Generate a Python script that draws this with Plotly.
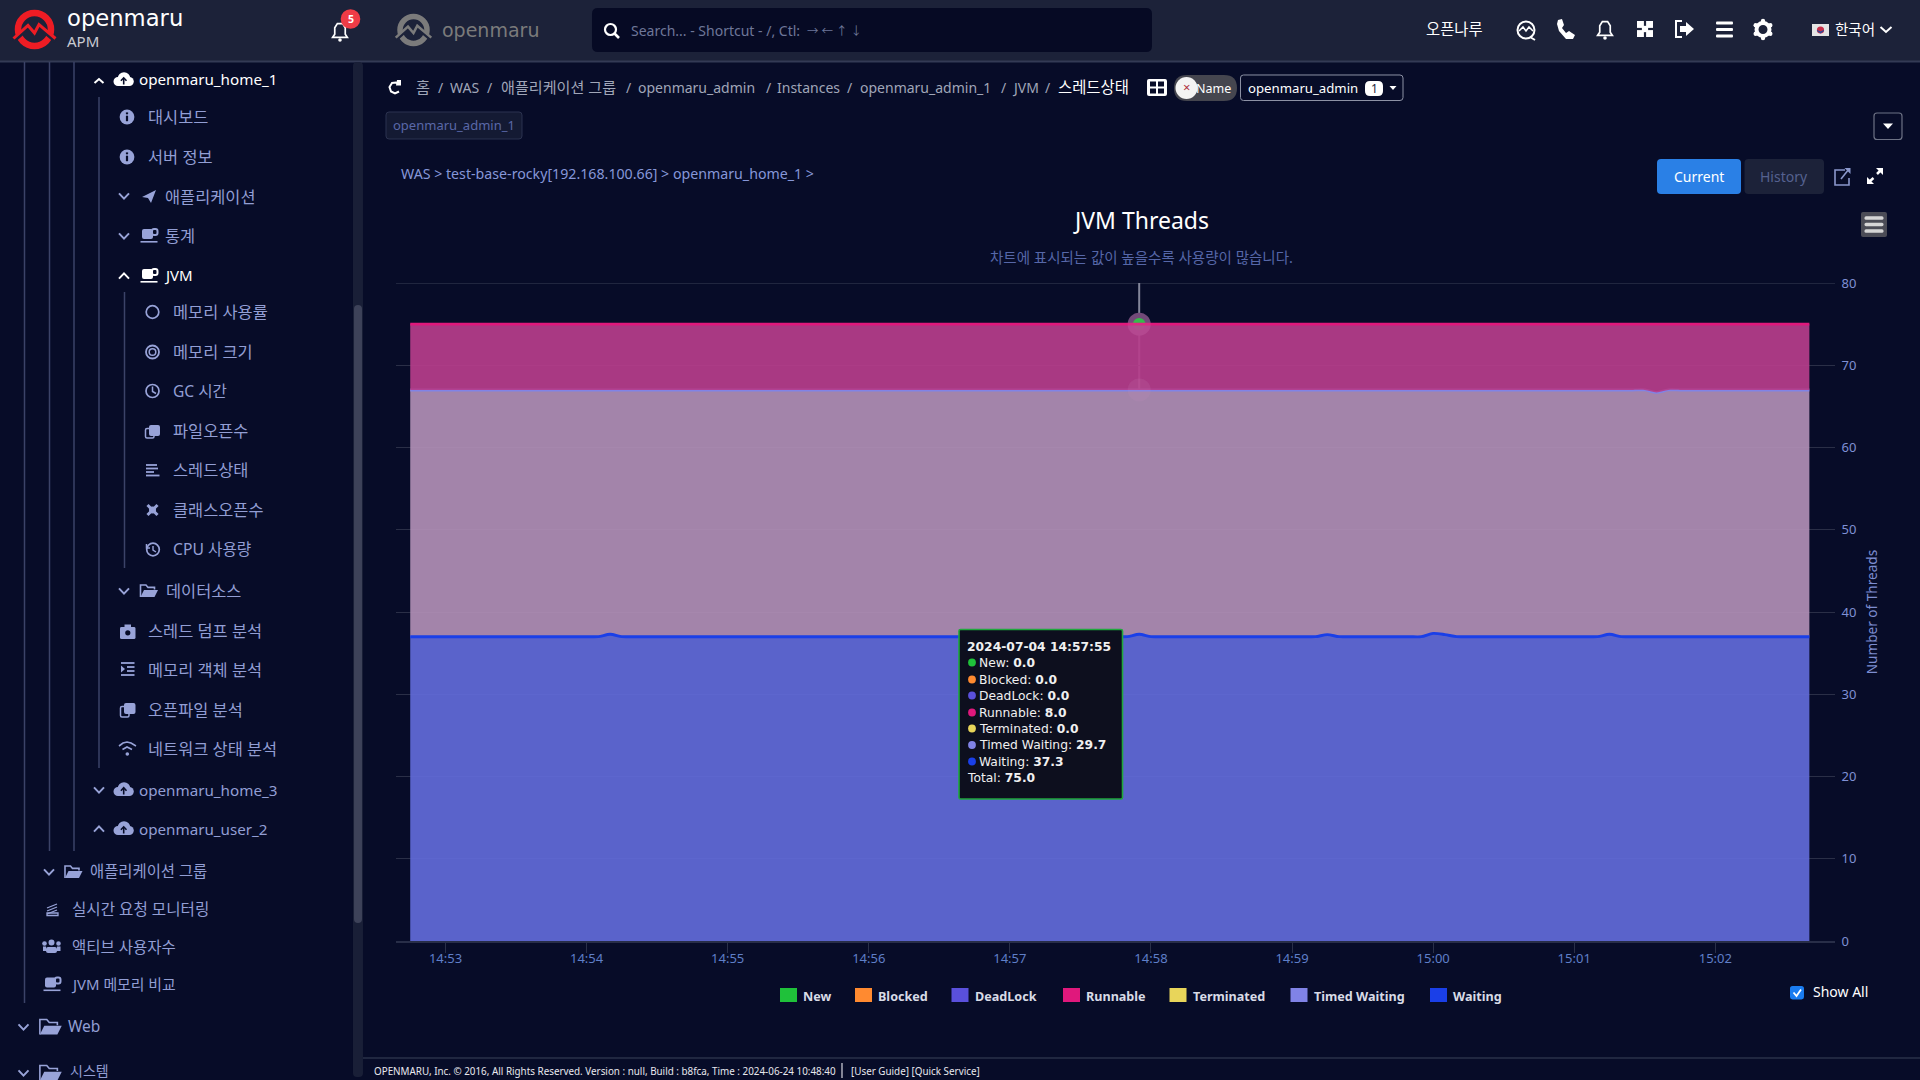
import pandas as pd
import plotly.graph_objects as go

# ---------- data ----------
times = pd.date_range("2024-07-04 14:52:45", periods=120, freq="5s")
tick_vals = ["2024-07-04 14:53:00", "2024-07-04 14:54:00", "2024-07-04 14:55:00", "2024-07-04 14:56:00",
             "2024-07-04 14:57:00", "2024-07-04 14:58:00", "2024-07-04 14:59:00", "2024-07-04 15:00:00",
             "2024-07-04 15:01:00", "2024-07-04 15:02:00"]
tick_text = ["14:53", "14:54", "14:55", "14:56", "14:57", "14:58", "14:59", "15:00", "15:01", "15:02"]
waiting = [
    37, 37, 37, 37, 37, 37, 37, 37, 37, 37, 37, 37,
    37, 37, 37, 37, 37, 37.3, 37, 37, 37, 37, 37, 37,
    37, 37, 37, 37, 37, 37, 37, 37, 37, 37, 37, 37,
    37, 37, 37, 37, 37, 37, 37, 37, 37, 37, 37, 37,
    37, 37, 37, 37, 37, 37, 37, 37, 37, 37, 37, 37,
    37, 37, 37.3, 37, 37, 37, 37, 37, 37, 37, 37, 37,
    37, 37, 37, 37, 37, 37, 37.25, 37, 37, 37, 37, 37,
    37, 37, 37, 37.4, 37.25, 37, 37, 37, 37, 37, 37, 37,
    37, 37, 37, 37, 37, 37, 37.3, 37, 37, 37, 37, 37,
    37, 37, 37, 37, 37, 37, 37, 37, 37, 37, 37, 37,
]
timed_waiting = [
    30, 30, 30, 30, 30, 30, 30, 30, 30, 30, 30, 30,
    30, 30, 30, 30, 30, 29.7, 30, 30, 30, 30, 30, 30,
    30, 30, 30, 30, 30, 30, 30, 30, 30, 30, 30, 30,
    30, 30, 30, 30, 30, 30, 30, 30, 30, 30, 30, 30,
    30, 30, 30, 30, 30, 30, 30, 30, 30, 30, 30, 30,
    30, 30, 29.7, 30, 30, 30, 30, 30, 30, 30, 30, 30,
    30, 30, 30, 30, 30, 30, 29.75, 30, 30, 30, 30, 30,
    30, 30, 30, 29.6, 29.75, 30, 30, 30, 30, 30, 30, 30,
    30, 30, 30, 30, 30, 30, 29.7, 30, 30, 30, 29.7, 30,
    30, 30, 30, 30, 30, 30, 30, 30, 30, 30, 30, 30,
]
runnable = [
    8, 8, 8, 8, 8, 8, 8, 8, 8, 8, 8, 8,
    8, 8, 8, 8, 8, 8, 8, 8, 8, 8, 8, 8,
    8, 8, 8, 8, 8, 8, 8, 8, 8, 8, 8, 8,
    8, 8, 8, 8, 8, 8, 8, 8, 8, 8, 8, 8,
    8, 8, 8, 8, 8, 8, 8, 8, 8, 8, 8, 8,
    8, 8, 8, 8, 8, 8, 8, 8, 8, 8, 8, 8,
    8, 8, 8, 8, 8, 8, 8, 8, 8, 8, 8, 8,
    8, 8, 8, 8, 8, 8, 8, 8, 8, 8, 8, 8,
    8, 8, 8, 8, 8, 8, 8, 8, 8, 8, 8.3, 8,
    8, 8, 8, 8, 8, 8, 8, 8, 8, 8, 8, 8,
]
zeros = [
    0, 0, 0, 0, 0, 0, 0, 0, 0, 0, 0, 0, 0, 0, 0, 0, 0, 0, 0, 0, 0, 0, 0, 0,
    0, 0, 0, 0, 0, 0, 0, 0, 0, 0, 0, 0, 0, 0, 0, 0, 0, 0, 0, 0, 0, 0, 0, 0,
    0, 0, 0, 0, 0, 0, 0, 0, 0, 0, 0, 0, 0, 0, 0, 0, 0, 0, 0, 0, 0, 0, 0, 0,
    0, 0, 0, 0, 0, 0, 0, 0, 0, 0, 0, 0, 0, 0, 0, 0, 0, 0, 0, 0, 0, 0, 0, 0,
    0, 0, 0, 0, 0, 0, 0, 0, 0, 0, 0, 0, 0, 0, 0, 0, 0, 0, 0, 0, 0, 0, 0, 0,
]
series_names = ["New", "Blocked", "DeadLock", "Runnable", "Terminated", "Timed Waiting", "Waiting"]
series_colors = ["#1fc13a", "#ff8a30", "#5a50dc", "#e0187c", "#e8d55a", "#8083e6", "#1a3fe8"]
tooltip_time = "2024-07-04 14:57:55"
tooltip_values = ["0.0", "0.0", "0.0", "8.0", "0.0", "29.7", "37.3"]
tooltip_total = "75.0"
crosshair_time = "2024-07-04 14:57:55"

# ---------- helpers (1920x1080 page pixels -> paper) ----------
W, H = 1920, 1080
FONT = "Noto Sans, Noto Sans CJK KR, sans-serif"
BG = "#070c28"
HEAD = "#1c2239"
IC = "#98a3d8"
SB = "#929ed4"
shapes, annos = [], []
X = lambda x: x / W
Y = lambda y: 1 - y / H


def path(pts, fill=None, line=None, lw=1.5, close=False, layer="above"):
    d = "M " + " L ".join(f"{X(a):.5f} {Y(b):.5f}" for a, b in pts) + (" Z" if close else "")
    shapes.append(dict(type="path", xref="paper", yref="paper", path=d, layer=layer,
                       fillcolor=fill if fill else "rgba(0,0,0,0)",
                       line=dict(color=line if line else "rgba(0,0,0,0)", width=lw if line else 0)))


def rrect(x0, y0, x1, y1, fill=None, line=None, lw=1, r=0):
    if r:
        d = (f"M {X(x0+r):.5f} {Y(y0):.5f} L {X(x1-r):.5f} {Y(y0):.5f} Q {X(x1):.5f} {Y(y0):.5f} {X(x1):.5f} {Y(y0+r):.5f} "
             f"L {X(x1):.5f} {Y(y1-r):.5f} Q {X(x1):.5f} {Y(y1):.5f} {X(x1-r):.5f} {Y(y1):.5f} "
             f"L {X(x0+r):.5f} {Y(y1):.5f} Q {X(x0):.5f} {Y(y1):.5f} {X(x0):.5f} {Y(y1-r):.5f} "
             f"L {X(x0):.5f} {Y(y0+r):.5f} Q {X(x0):.5f} {Y(y0):.5f} {X(x0+r):.5f} {Y(y0):.5f} Z")
        shapes.append(dict(type="path", xref="paper", yref="paper", path=d, layer="above",
                           fillcolor=fill if fill else "rgba(0,0,0,0)",
                           line=dict(color=line if line else "rgba(0,0,0,0)", width=lw if line else 0)))
    else:
        shapes.append(dict(type="rect", xref="paper", yref="paper", x0=X(x0), x1=X(x1), y0=Y(y0), y1=Y(y1),
                           layer="above", fillcolor=fill if fill else "rgba(0,0,0,0)",
                           line=dict(color=line if line else "rgba(0,0,0,0)", width=lw if line else 0)))


def circ(cx, cy, r, fill=None, line=None, lw=1):
    shapes.append(dict(type="circle", xref="paper", yref="paper", x0=X(cx - r), x1=X(cx + r), y0=Y(cy - r), y1=Y(cy + r),
                       layer="above", fillcolor=fill if fill else "rgba(0,0,0,0)",
                       line=dict(color=line if line else "rgba(0,0,0,0)", width=lw if line else 0)))


def seg(x0, y0, x1, y1, color, lw=1.5):
    path([(x0, y0), (x1, y1)], line=color, lw=lw)


def text(x, y, s, size=14, color=SB, anchor="left", family=FONT, angle=0):
    annos.append(dict(xref="paper", yref="paper", x=X(x), y=Y(y), text=s, showarrow=False, xanchor=anchor,
                      yanchor="middle", textangle=angle, borderpad=0, font=dict(family=family, size=size, color=color)))


def sb(x, y, s, size=16.4, color=SB):
    text(x - 1.2, y, s, size, color)


def chev(cx, cy, up=False, color=IC, w=5, h=5.2, lw=2):
    d = -h if up else h
    path([(cx - w, cy - d / 2), (cx, cy + d / 2), (cx + w, cy - d / 2)], line=color, lw=lw)


def info(cx, cy):
    circ(cx, cy, 7.4, IC)
    rrect(cx - 1.1, cy - 1.3, cx + 1.1, cy + 4.2, BG)
    rrect(cx - 1.1, cy - 4.6, cx + 1.1, cy - 2.7, BG)


def cloud(cx, cy, color):
    circ(cx - 5.5, cy + 1.5, 4.5, color)
    circ(cx + 0.5, cy - 1.5, 6.3, color)
    circ(cx + 5.8, cy + 1.5, 4.5, color)
    rrect(cx - 5.5, cy + 1, cx + 5.8, cy + 6, color)
    seg(cx + 0.2, cy + 4.5, cx + 0.2, cy - 1.5, BG, 1.6)
    path([(cx - 2.6, cy + 0.8), (cx + 0.2, cy - 2.2), (cx + 3, cy + 0.8)], line=BG, lw=1.6)


def folder(cx, cy, color=IC, s=1.0):
    path([(cx - 8.5 * s, cy + 6 * s), (cx - 8.5 * s, cy - 6 * s), (cx - 3 * s, cy - 6 * s), (cx - 1 * s, cy - 3.6 * s),
          (cx + 5.5 * s, cy - 3.6 * s), (cx + 5.5 * s, cy - 1.5 * s)], line=color, lw=1.6)
    path([(cx - 8.5 * s, cy + 6 * s), (cx - 5 * s, cy - 1 * s), (cx + 9 * s, cy - 1 * s), (cx + 5.5 * s, cy + 6 * s)],
         fill=color, close=True)


def cup(cx, cy, color):
    rrect(cx - 7, cy - 7, cx + 4, cy + 3, color, r=2)
    rrect(cx + 3, cy - 7, cx + 8.5, cy - 1, None, color, 2, r=2)
    rrect(cx - 8.5, cy + 5, cx + 8.5, cy + 6.6, color)


# ---------- page chrome ----------
rrect(0, 0, W, 61, HEAD)
seg(0, 61.5, W, 61.5, "#333a55", 2)
seg(361, 62, 361, 1058, "#2a3049", 1.5)
seg(361, 1058, W, 1058, "#2a3049", 1.5)
rrect(353, 62, 363, 1077, "#191f37", r=4)
rrect(354, 305, 362, 923, "#3d4259", r=4)


def logo(cx, cy, r, color, mid):
    circ(cx, cy, r - 3, None, color, 6.5 * r / 19.5)
    pts = [(cx - 21 * r / 19.5, cy + 9 * r / 19.5), (cx - 6.5 * r / 19.5, cy - 4 * r / 19.5), (cx, cy + 3.5 * r / 19.5),
           (cx + 4.5 * r / 19.5, cy - 5 * r / 19.5), (cx + 21 * r / 19.5, cy + 9 * r / 19.5)]
    path([(a, b + 3 * r / 19.5) for a, b in pts], line=mid, lw=3.5 * r / 19.5)
    path(pts, line=color, lw=3 * r / 19.5)


LOGOFONT = "DejaVu Sans, sans-serif"
logo(34.5, 29.5, 19.5, "#ed1c24", HEAD)
text(66, 18, "openmaru", 22.7, "#ffffff", family=LOGOFONT)
text(66, 41, "APM", 15, "#c9cbd2")
logo(413.5, 30, 16.5, "#7b7b7b", HEAD)
text(441, 30, "openmaru", 19, "#7b7b7b", family=LOGOFONT)


def bell(cx, cy, s=1.0, color="#ffffff"):
    path([(cx - 7 * s, cy + 6 * s), (cx - 5 * s, cy + 3 * s), (cx - 5 * s, cy - 3 * s), (cx - 2.5 * s, cy - 7 * s),
          (cx + 2.5 * s, cy - 7 * s), (cx + 5 * s, cy - 3 * s), (cx + 5 * s, cy + 3 * s), (cx + 7 * s, cy + 6 * s)],
         line=color, lw=1.7, close=True)
    circ(cx, cy + 8.5 * s, 1.7 * s, color)


bell(340, 31, 1.05)
circ(350.5, 19, 9.8, "#ee3b46")
text(350.5, 19, "<b>5</b>", 10.5, "#ffffff", "center")

# search
rrect(592, 8, 1152, 52, "#060a24", r=6)
circ(610.5, 29.5, 5.5, None, "#ffffff", 2.2)
seg(614.5, 33.5, 619, 38, "#ffffff", 2.6)
text(630, 31, "Search... - Shortcut - /, Ctl:", 14, "#6e7799")
text(806, 31, "→ ← ↑ ↓", 11.5, "#6e7799")

# right header
text(1425, 29.5, "오픈나루", 15.4, "#ffffff")
circ(1526, 30, 8.5, None, "#ffffff", 2)
path([(1519, 31), (1523, 27), (1526, 31), (1529, 27), (1533, 31)], line="#ffffff", lw=1.5)
seg(1530, 37, 1535, 40, "#ffffff", 2)
path([(1558, 20), (1562, 19), (1564, 25), (1562, 28), (1566, 33), (1569, 31), (1575, 35), (1573, 39), (1566, 39), (1559, 31), (1557, 24)],
     fill="#ffffff", close=True)
bell(1605, 29, 1.05)
rrect(1637, 21, 1653, 37, "#ffffff")
seg(1645, 21, 1645, 37, HEAD, 2.2)
seg(1637, 29, 1653, 29, HEAD, 2.2)
circ(1645, 29, 3.2, "#ffffff")
path([(1682, 21), (1676, 21), (1676, 37), (1682, 37)], line="#ffffff", lw=2)
path([(1680, 26), (1686, 26), (1686, 22), (1694, 29), (1686, 36), (1686, 32), (1680, 32)], fill="#ffffff", close=True)
for yy in (23, 29.5, 36):
    rrect(1716, yy - 1.4, 1733, yy + 1.4, "#ffffff", r=1)
circ(1763, 29.5, 6.5, None, "#ffffff", 4)
for a, b in ((0, -8.5), (0, 8.5), (-7.3, -4.2), (7.3, -4.2), (-7.3, 4.2), (7.3, 4.2)):
    circ(1763 + a, 29.5 + b, 2.2, "#ffffff")
rrect(1812, 24, 1829, 36, "#e4e4e4")
circ(1820.5, 30, 3.6, "#c8304a")
path([(1817, 30), (1820.5, 31.5), (1824, 30), (1824, 31), (1820.5, 33.6), (1817, 31)], fill="#2a4a9a", close=True)
text(1834, 29.5, "한국어", 14.5, "#ffffff")
chev(1886, 29.5, False, "#ffffff", 5.5, 5, 2)

# sidebar tree
for lx, ly0, ly1 in ((24.5, 62, 1003), (49.5, 62, 851), (74, 62, 851), (99, 97, 768), (124.5, 292, 568)):
    seg(lx, ly0, lx, ly1, "#3b4368", 1.5)

chev(99, 81, True, "#ffffff", 4.5, 4, 2)
cloud(123.5, 80, "#ffffff")
sb(139.5, 79.5, "openmaru_home_1", 15.2, "#ffffff")
info(127, 117); sb(148, 116.5, "대시보드")
info(127, 157); sb(148, 156.5, "서버 정보")
chev(124, 196, False); sb(165.5, 196.5, "애플리케이션")
path([(142, 197), (156, 190), (151, 203), (148, 198)], fill=IC, close=True)
chev(124, 236, False); cup(149, 236, IC); sb(165.5, 235.5, "통계")
chev(124, 276, True, "#ffffff"); cup(149, 276, "#ffffff"); sb(164, 274.5, "JVM", 15, "#ffffff")

circ(152.5, 312, 6.3, None, IC, 1.7); sb(173.5, 311.5, "메모리 사용률")
circ(152.5, 352, 6.5, None, IC, 1.8); circ(152.5, 352, 3.3, None, IC, 1.5); sb(173.5, 351.5, "메모리 크기")
circ(152.5, 391, 6.5, None, IC, 1.7); path([(152.5, 386.5), (152.5, 391.5), (156, 393.5)], line=IC, lw=1.5); sb(173.5, 391, "GC 시간", 15.6)
rrect(149, 425, 160, 436, IC, r=2); rrect(145.5, 428.5, 154, 438, None, IC, 1.5, r=1.5); sb(173.5, 430.5, "파일오픈수")
for yy, xe in ((465, 157), (468.5, 158), (472, 154), (475.5, 159.5)):
    rrect(146, yy - 0.9, xe, yy + 0.9, IC)
sb(173.5, 470, "스레드상태")
circ(152.5, 510, 3.5, IC)
for a, b in ((-5, -5), (5, -5), (-5, 5), (5, 5)):
    seg(152.5, 510, 152.5 + a, 510 + b, IC, 3)
sb(173.5, 509.5, "클래스오픈수")
path([(146.5, 544), (146.5, 548), (150, 548)], line=IC, lw=1.5)
circ(153, 549.5, 6.3, None, IC, 1.7); path([(153, 546), (153, 550), (156, 552)], line=IC, lw=1.4); sb(173.5, 549, "CPU 사용량", 15.7)

chev(124, 591, False); folder(149, 591); sb(166, 590.5, "데이터소스")
rrect(120, 627, 135.5, 639, IC, r=1.5); rrect(124.5, 624.5, 131, 628, IC); circ(127.8, 632.8, 2.6, BG)
sb(148.5, 630.5, "스레드 덤프 분석")
for yy, x0 in ((663, 121), (667, 127), (671, 127), (675, 121)):
    rrect(x0, yy - 0.9, 134.5, yy + 0.9, IC)
path([(121, 665.5), (125, 669), (121, 672.5)], fill=IC, close=True)
sb(148.5, 669, "메모리 객체 분석")
rrect(124, 703, 135.5, 714, IC, r=2); rrect(120.5, 706.5, 129, 717, None, IC, 1.5, r=1.5); sb(148.5, 709.5, "오픈파일 분석")
path([(119, 746), (123, 743), (127, 742), (131, 743), (136, 746)], line=IC, lw=1.6)
path([(122.5, 749.5), (127, 747), (132, 749.5)], line=IC, lw=1.6)
circ(127.3, 754, 1.8, IC)
sb(148.5, 748.5, "네트워크 상태 분석")
chev(99, 790, False); cloud(123.5, 790, IC); sb(139.5, 789.5, "openmaru_home_3", 15.2)
chev(99, 829, True); cloud(123.5, 829, IC); sb(139.5, 828.5, "openmaru_user_2", 15.2)
chev(49, 872, False); folder(73.5, 872); sb(90.5, 871.5, "애플리케이션 그룹", 15.4)
for yy in (912, 909, 906):
    seg(47, yy + 2, 57, yy - 2, IC, 1.3)
rrect(47, 913, 58, 915.5, None, IC, 1.3); sb(72.5, 909, "실시간 요청 모니터링", 15.6)
circ(51.5, 942.5, 3, IC); circ(44.5, 943.5, 2.3, IC); circ(58.5, 943.5, 2.3, IC)
rrect(46, 947, 57, 953, IC, r=2); rrect(43, 946.5, 46, 951, IC); rrect(57, 946.5, 60.5, 951, IC)
sb(72.5, 947, "액티브 사용자수", 15.5)
cup(52, 984.5, IC); sb(71.5, 984, "JVM 메모리 비교", 14.9)
chev(23.5, 1027, False); folder(50.5, 1027, IC, 1.25); sb(68, 1026, "Web", 15.5)
chev(23.5, 1073, False); folder(50.5, 1073, IC, 1.25); sb(70.5, 1070, "시스템", 14)

# breadcrumbs
path([(399, 84), (396, 82.5), (392, 83), (389.5, 87), (391, 91.5), (395, 93.5), (399, 91.5)], line="#ffffff", lw=2)
path([(397, 80), (401, 80), (401, 85.5), (396, 85.5)], fill="#ffffff", close=True)
BC = "#a0a6b8"
for bx, bs, bz in ((415, "홈", 15.2), (437, "/", 14), (449, "WAS", 14), (486, "/", 14), (499.5, "애플리케이션 그룹", 15.1), (625, "/", 14),
                   (636.5, "openmaru_admin", 14), (765, "/", 14), (775.5, "Instances", 14), (846, "/", 14),
                   (859, "openmaru_admin_1", 14), (1000, "/", 14), (1011, "JVM", 14), (1044, "/", 14)):
    text(bx, 87.5, bs, bz, BC)
text(1057, 87.5, "스레드상태", 15.4, "#ffffff")
rrect(1147, 79, 1167, 96, "#ffffff", r=2)
for a, b in ((1150, 81.5), (1158, 81.5), (1150, 88.5), (1158, 88.5)):
    rrect(a, b, a + 6, b + 5, BG)
rrect(1174, 75, 1237, 101, "#45464f", r=13)
circ(1186.5, 88, 11, "#f3f3f3")
text(1186.5, 87.5, "×", 13, "#b03040", "center")
text(1194.5, 88, "Name", 12.5, "#ffffff")
rrect(1240.5, 75, 1403, 100.5, None, "#8d92a5", 1, r=3)
text(1246.5, 88, "openmaru_admin", 13.2, "#ffffff")
rrect(1365, 81, 1383, 96, "#ffffff", r=5)
text(1374, 88.5, "1", 12, "#222840", "center")
path([(1389.5, 86), (1396.5, 86), (1393, 90)], fill="#ffffff", close=True)
rrect(386, 112, 522, 139, "#141a33", "#2c3350", 1, r=3)
text(392, 124.5, "openmaru_admin_1", 13, "#5a68a8")
rrect(1874, 113, 1902, 139.5, None, "#6d7285", 1.2, r=3)
path([(1883, 123.5), (1893, 123.5), (1888, 129)], fill="#ffffff", close=True)
text(400, 174, "WAS &gt; test-base-rocky[192.168.100.66] &gt; openmaru_home_1 &gt;", 14.2, "#8697d8")
rrect(1657, 159, 1741, 194, "#2a80e6", r=4)
text(1699, 176.5, "Current", 14, "#ffffff", "center")
rrect(1744.5, 159, 1824, 194, "#1c2239", r=4)
text(1784, 176.5, "History", 14, "#55618f", "center")
path([(1845, 170), (1835, 170), (1835, 185), (1849, 185), (1849, 178)], line="#8a97cc", lw=1.6)
seg(1841, 179, 1849, 169, "#8a97cc", 1.6)
path([(1844.5, 168), (1850.5, 168), (1850.5, 174)], fill="#8a97cc", close=True)
seg(1870, 181, 1873.5, 178, "#ffffff", 2.5)
seg(1877, 174, 1880, 171, "#ffffff", 2.5)
path([(1876, 168), (1883, 168), (1883, 175)], fill="#ffffff", close=True)
path([(1867, 177), (1867, 184), (1874, 184)], fill="#ffffff", close=True)

# chart title & toolbar button
text(1141, 220.5, "JVM Threads", 23, "#ffffff", "center")
text(1141, 256.5, "차트에 표시되는 값이 높을수록 사용량이 많습니다.", 14.5, "#5667a8", "center")
rrect(1861, 212, 1887, 237, "#4b4c56", r=2)
for yy in (218, 224.5, 231):
    rrect(1864.5, yy - 1.7, 1883.5, yy + 1.7, "#d6d6d6", r=1.5)

# legend built from the series arrays
legend_left = [780, 855, 951.5, 1063, 1169.5, 1290.5, 1430]
for lx, nm, col in zip(legend_left, series_names, series_colors):
    rrect(lx, 988, lx + 17, 1002, col)
    text(lx + 22, 996, f"<b>{nm}</b>", 12.6, "#d8dbe6")
rrect(1790, 986, 1804, 999.5, "#1a7cf0", r=2.5)
path([(1793.5, 992.5), (1796.5, 996), (1801, 989.5)], line="#ffffff", lw=1.8)
text(1812, 991, "Show All", 14, "#ffffff")

# footer
text(373, 1070.5, "OPENMARU, Inc. © 2016, All Rights Reserved. Version : null, Build : b8fca, Time : 2024-06-24 10:48:40", 9.85, "#e8e8ee")
seg(842, 1063, 842, 1078, "#d8d8e0", 1.2)
text(849.5, 1070.5, "[User Guide] [Quick Service]", 9.85, "#e8e8ee")

# tooltip built from the series arrays
TT = "DejaVu Sans, sans-serif"
rrect(959, 629.5, 1122.5, 799, "#0d0f1e", "#1fa83c", 1.6, r=1.5)
text(966, 647, f"<b>{tooltip_time}</b>", 12.3, "#f0f0f0", family=TT)
row_y = [662.5, 679.5, 695.5, 712.5, 728.5, 745, 761.5]
for ry, nm, col, val in zip(row_y, series_names, series_colors, tooltip_values):
    circ(972, ry, 3.9, col)
    text(977.5, ry, f"{nm}: <b>{val}</b>", 12.3, "#f0f0f0", family=TT)
text(966, 778, f"Total: <b>{tooltip_total}</b>", 12.3, "#f0f0f0", family=TT)

# crosshair (below the translucent areas) and the top grid line that Plotly omits at the range edge
shapes.append(dict(type="line", xref="x", yref="y", x0=crosshair_time, x1=crosshair_time, y0=67, y1=80, layer="below",
                   line=dict(color="#83869a", width=2)))
shapes.append(dict(type="line", xref="paper", yref="y", x0=X(396), x1=X(1835), y0=80, y1=80, layer="below",
                   line=dict(color="#2a2f47", width=1.5)))

# ---------- traces ----------
fig = go.Figure()
t0 = [crosshair_time]
fig.add_trace(go.Scatter(x=t0, y=[75], mode="markers", marker=dict(size=23, color="#64406f"), showlegend=False, hoverinfo="skip"))
fig.add_trace(go.Scatter(x=t0, y=[75], mode="markers", marker=dict(size=12.5, color=series_colors[0]), showlegend=False, hoverinfo="skip"))

fills = {"Waiting": "rgba(97,106,216,0.93)", "Timed Waiting": "rgba(175,142,181,0.93)", "Runnable": "rgba(182,61,139,0.93)"}
stack = [("Waiting", waiting), ("Timed Waiting", timed_waiting), ("Terminated", zeros), ("Runnable", runnable),
         ("DeadLock", zeros), ("Blocked", zeros), ("New", zeros)]
for nm, vals in stack:
    col = series_colors[series_names.index(nm)]
    visible_line = nm in fills
    fig.add_trace(go.Scatter(
        x=times, y=vals, name=nm, mode="lines", stackgroup="threads",
        line=dict(color=col, width=2.9 if visible_line else 0, shape="spline", smoothing=0.8),
        fillcolor=fills.get(nm, "rgba(0,0,0,0)"), showlegend=False, hoverinfo="skip"))
fig.add_trace(go.Scatter(x=t0 * 2, y=[75, 67], mode="markers", marker=dict(size=23, color="rgba(205,150,190,0.13)"),
                         showlegend=False, hoverinfo="skip"))

fig.update_layout(
    width=W, height=H, margin=dict(l=0, r=0, t=0, b=0, pad=0, autoexpand=False),
    paper_bgcolor=BG, plot_bgcolor=BG, showlegend=False, shapes=shapes, annotations=annos,
    font=dict(family=FONT),
    xaxis=dict(type="date", domain=[396 / W, 1835 / W], range=["2024-07-04 14:52:38.95", "2024-07-04 15:02:50.9"],
               tickmode="array", tickvals=tick_vals, ticktext=tick_text, ticks="outside", ticklen=10, tickwidth=1,
               tickcolor="#2a3049", showgrid=False, showline=True, linecolor="#282e48", linewidth=2, zeroline=False,
               ticklabelstandoff=-6,
               tickfont=dict(family=FONT, size=13, color="#5f7fc8"), automargin=False, fixedrange=True),
    yaxis=dict(domain=[1 - 941 / H, 1 - 283 / H], range=[0, 80], side="right", tickmode="array",
               tickvals=[0, 10, 20, 30, 40, 50, 60, 70, 80], ticks="outside", ticklen=3, tickcolor="rgba(0,0,0,0)",
               gridcolor="#2a2f47", gridwidth=1.3, showline=False, zeroline=False,
               tickfont=dict(family=FONT, size=13, color="#7f90d4"), automargin=False, fixedrange=True,
               title=dict(text="Number of Threads", standoff=12, font=dict(family=FONT, size=13.6, color="#7d8dd0"))),
)
fig.write_html("out.html", config=dict(displayModeBar=False),
               post_script="document.body.style.margin='0';document.body.style.background='#070c28';document.body.style.overflow='hidden';")
